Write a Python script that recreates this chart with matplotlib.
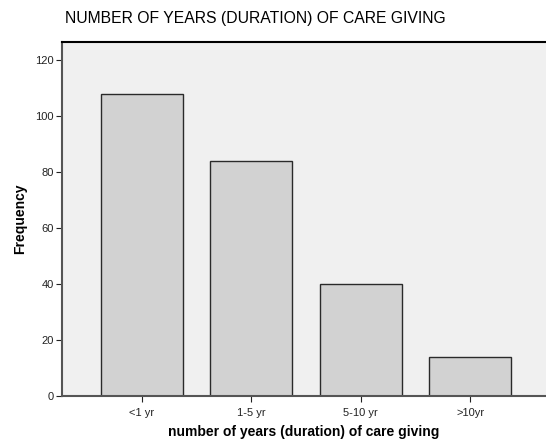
import matplotlib
matplotlib.use("Agg")
import matplotlib.pyplot as plt

plt.rcParams['font.family'] = ['Liberation Sans', 'DejaVu Sans']

categories = ['<1 yr', '1-5 yr', '5-10 yr', '>10yr']
frequency = [108, 84, 40, 14]
y_ticks = [0, 20, 40, 60, 80, 100, 120]

fig = plt.figure(figsize=(5.46, 4.43), dpi=100)
ax = fig.add_axes([62 / 546, 1 - 396 / 443, 1 - 62 / 546, (396 - 42) / 443])
ax.set_facecolor('#f0f0f0')

pos = list(range(len(categories)))
ax.bar(pos, frequency, width=0.75, color='#d2d2d2', edgecolor='#2a2a2a', linewidth=1.0, zorder=2)

ax.set_xlim(-0.728, 3.692)
ax.set_ylim(0, 126.4)
ax.set_yticks(y_ticks)
ax.set_xticks(pos)
ax.set_xticklabels(categories)
ax.tick_params(axis='both', direction='out', length=4, width=0.8, labelsize=8, pad=2, colors='#222222')
ax.tick_params(axis='x', pad=5)

ax.spines['right'].set_visible(False)
ax.spines['top'].set_color('black')
ax.spines['top'].set_linewidth(1.5)
for s in ['left', 'bottom']:
    ax.spines[s].set_color('#555555')
    ax.spines[s].set_linewidth(1.5)

ax.set_ylabel('Frequency', fontsize=10, fontweight='bold', labelpad=6)
ax.set_xlabel('number of years (duration) of care giving', fontsize=10, fontweight='bold', labelpad=5)

fig.text(65 / 546, 1 - 19 / 443, 'NUMBER OF YEARS (DURATION) OF CARE GIVING',
         fontsize=11.3, va='center', ha='left')

fig.savefig('out.png', dpi=100, facecolor='white')
